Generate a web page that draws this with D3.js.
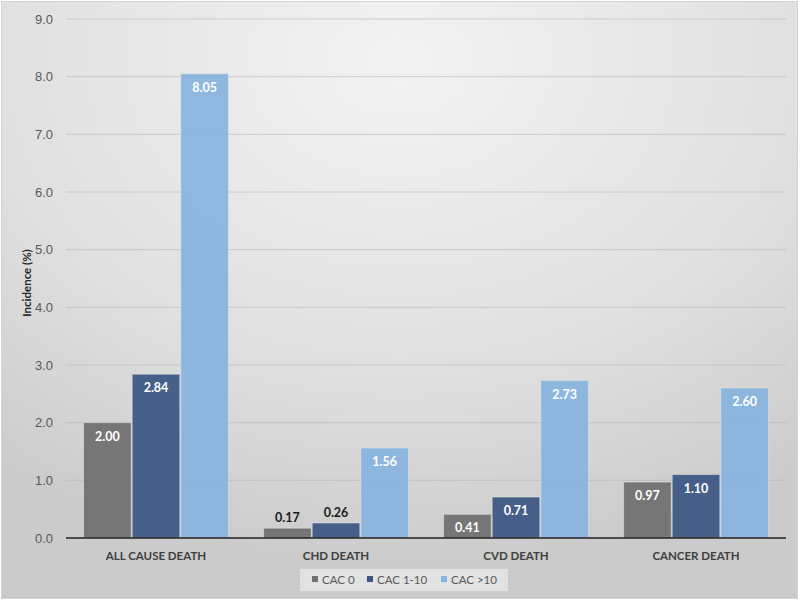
<!DOCTYPE html>
<html>
<head>
<meta charset="utf-8">
<script src="https://cdn.jsdelivr.net/npm/d3@7"></script>
<style>
  body { margin: 0; background: #fff; }
  svg { display: block; font-family: Lato, "Open Sans", sans-serif; }
</style>
</head>
<body>
<div id="chart"></div>
<script>
// Chart data
const categories = ["ALL CAUSE DEATH", "CHD DEATH", "CVD DEATH", "CANCER DEATH"];
const seriesNames = ["CAC 0", "CAC 1-10", "CAC >10"];
const cac0 = [2.00, 0.17, 0.41, 0.97];
const cac1to10 = [2.84, 0.26, 0.71, 1.10];
const cacOver10 = [8.05, 1.56, 2.73, 2.60];
const yTicks = [0, 1, 2, 3, 4, 5, 6, 7, 8, 9];

const colors = ["#6f6f6f", "#3a5683", "#88b4df"];
const values = [cac0, cac1to10, cacOver10];

const width = 800, height = 603;
const margin = { top: 19, right: 14, bottom: 65, left: 66 };

const svg = d3.select("#chart").append("svg")
  .attr("width", width)
  .attr("height", height);

// Background gradient, light at top, darker toward the edges
const defs = svg.append("defs");
const grad = defs.append("radialGradient")
  .attr("id", "bg")
  .attr("cx", "50%").attr("cy", "10%")
  .attr("r", "85%");
grad.append("stop").attr("offset", "0%").attr("stop-color", "#f3f3f3");
grad.append("stop").attr("offset", "60%").attr("stop-color", "#e0e0e0");
grad.append("stop").attr("offset", "100%").attr("stop-color", "#cbcbcb");

svg.append("rect")
  .attr("x", 1.5).attr("y", 1.5)
  .attr("width", 796).attr("height", 597)
  .attr("fill", "url(#bg)")
  .attr("stroke", "#d4d4d4")
  .attr("stroke-width", 1);

const innerW = width - margin.left - margin.right;
const innerH = height - margin.top - margin.bottom;

const g = svg.append("g").attr("transform", `translate(${margin.left},${margin.top})`);

const x0 = d3.scaleBand().domain(categories).range([0, innerW]).paddingInner(0.19).paddingOuter(0.095);
const x1 = d3.scaleBand().domain(seriesNames).range([0, x0.bandwidth()]).padding(0);
const y = d3.scaleLinear().domain([0, 9]).range([innerH, 0]);

// Gridlines
g.append("g")
  .selectAll("line")
  .data(yTicks.filter(d => d > 0))
  .join("line")
  .attr("x1", 0).attr("x2", innerW)
  .attr("y1", d => y(d)).attr("y2", d => y(d))
  .attr("stroke", "#b8b8b8")
  .attr("stroke-opacity", 0.6)
  .attr("stroke-width", 1);

// Y axis labels
const yAxis = g.append("g")
  .call(d3.axisLeft(y).tickValues(yTicks).tickFormat(d3.format(".1f")).tickSize(0).tickPadding(13));
yAxis.select(".domain").remove();
yAxis.selectAll("text")
  .attr("fill", "#595959")
  .style("font-size", "13px");

// Bars
const groups = g.append("g")
  .selectAll("g")
  .data(categories)
  .join("g")
  .attr("transform", d => `translate(${x0(d)},0)`);

const barData = (cat, ci) => seriesNames.map((s, si) => ({ series: s, si, value: values[si][ci] }));

groups.each(function (cat, ci) {
  const gg = d3.select(this);
  const data = barData(cat, ci);
  gg.selectAll("rect")
    .data(data)
    .join("rect")
    .attr("x", d => x1(d.series) + 0.5)
    .attr("y", d => y(d.value))
    .attr("width", x1.bandwidth() - 1)
    .attr("height", d => innerH - y(d.value))
    .attr("fill", d => colors[d.si])
    .attr("fill-opacity", 0.93)
    .attr("stroke", "#e8e8e8")
    .attr("stroke-opacity", 0.5)
    .attr("stroke-width", 1);

  // Value labels: inside the bar top, or above when the bar is too short
  gg.selectAll("text")
    .data(data)
    .join("text")
    .attr("x", d => x1(d.series) + x1.bandwidth() / 2)
    .attr("y", d => (innerH - y(d.value) < 22) ? y(d.value) - 6 : y(d.value) + 18)
    .attr("text-anchor", "middle")
    .attr("fill", d => (innerH - y(d.value) < 22) ? "#1a1a1a" : "#ffffff")
    .style("font-size", "12.5px")
    .style("font-weight", "bold")
    .text(d => d3.format(".2f")(d.value));
});

// X axis baseline
g.append("line")
  .attr("x1", 0).attr("x2", innerW)
  .attr("y1", innerH).attr("y2", innerH)
  .attr("stroke", "#1f1f1f")
  .attr("stroke-width", 1.5);

// Category labels
g.append("g")
  .selectAll("text")
  .data(categories)
  .join("text")
  .attr("x", d => x0(d) + x0.bandwidth() / 2)
  .attr("y", innerH + 22)
  .attr("text-anchor", "middle")
  .attr("fill", "#404040")
  .style("font-size", "11.5px")
  .style("font-weight", "bold")
  .text(d => d);

// Y axis title
svg.append("text")
  .attr("transform", `translate(31,283) rotate(-90)`)
  .attr("text-anchor", "middle")
  .attr("fill", "#262626")
  .style("font-size", "11.5px")
  .style("font-weight", "bold")
  .text("Incidence (%)");

// Legend
const legend = svg.append("g").attr("transform", "translate(300,569)");
legend.append("rect")
  .attr("width", 208).attr("height", 22)
  .attr("fill", "#e6e6e6")
  .attr("fill-opacity", 0.85);

const legendX = [12, 67, 141];
const items = legend.selectAll("g.item")
  .data(seriesNames)
  .join("g")
  .attr("class", "item")
  .attr("transform", (d, i) => `translate(${legendX[i]},0)`);
items.append("rect")
  .attr("x", 0).attr("y", 7)
  .attr("width", 6).attr("height", 6)
  .attr("fill", (d, i) => colors[i]);
items.append("text")
  .attr("x", 10).attr("y", 15)
  .attr("fill", "#595959")
  .style("font-size", "11.5px")
  .text(d => d);
</script>
</body>
</html>
